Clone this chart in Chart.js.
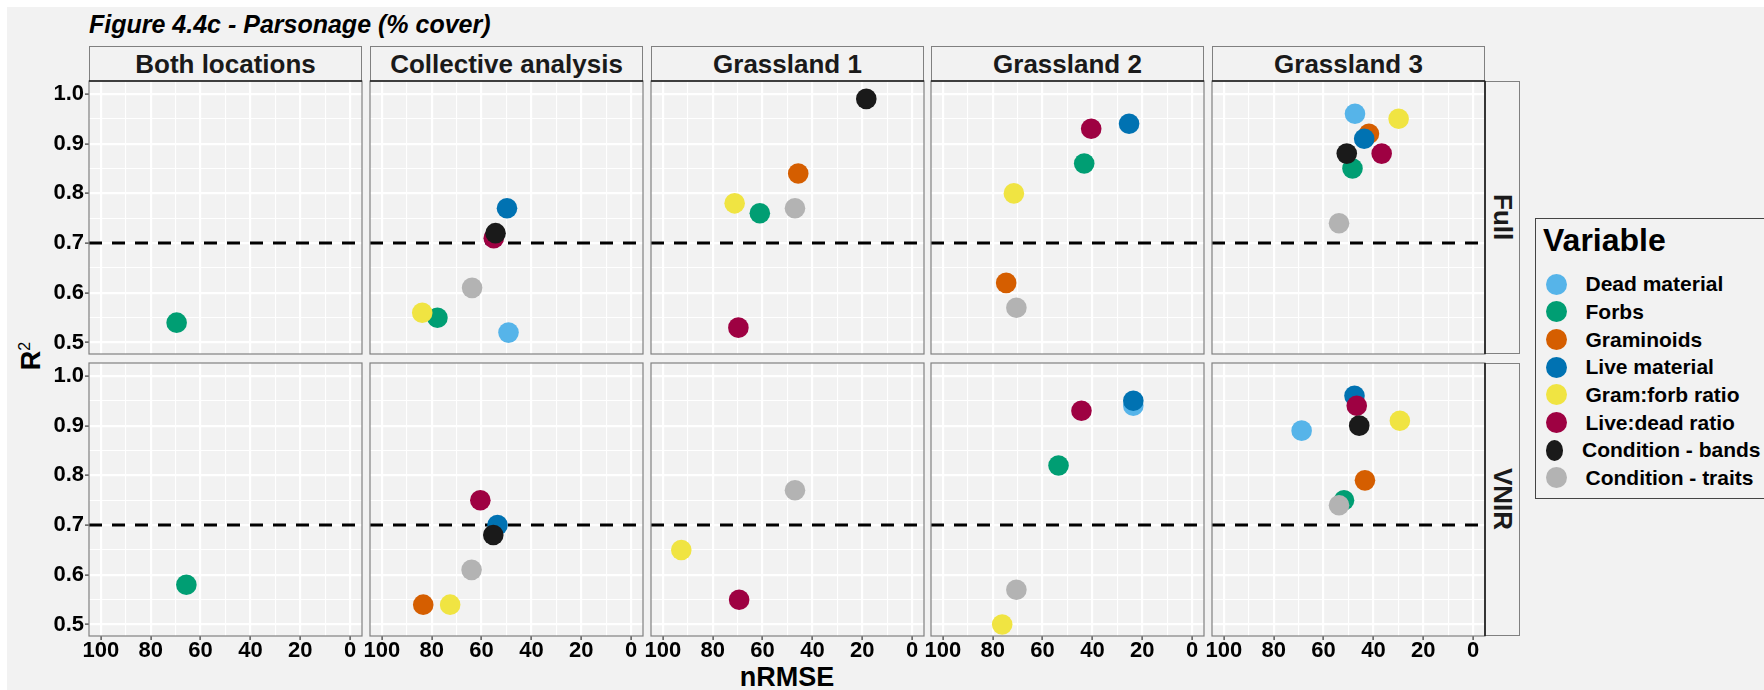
<!DOCTYPE html>
<html>
<head>
<meta charset="utf-8">
<title>Figure 4.4c - Parsonage (% cover)</title>
<script src="https://cdn.jsdelivr.net/npm/chart.js@4.4.1/dist/chart.umd.min.js"></script>
<style>
  html, body { margin: 0; padding: 0; background: #fff; }
  body {
    width: 1764px; height: 690px; overflow: hidden; position: relative;
    font-family: "Liberation Sans", Arial, sans-serif; color: #000;
  }
  #frame { position: absolute; left: 7px; top: 7px; right: 0; bottom: 0; background: #f2f2f2; }
  .abs { position: absolute; }
  canvas { position: absolute; }
  #title { left: 89px; top: 12px; font-size: 25px; line-height: 25px; font-weight: bold; font-style: italic; white-space: nowrap; }
  .strip {
    position: absolute; box-sizing: border-box; background: #f2f2f2;
    border: 1px solid #808080; color: #1a1a1a; font-weight: bold; font-size: 26px;
    display: flex; align-items: center; justify-content: center; white-space: nowrap;
  }
  .strip.top { border-bottom: none; }
  .strip.side { border-left: none; writing-mode: vertical-rl; }
  #xtitle { left: 787px; top: 677px; transform: translate(-50%, -50%); font-size: 27px; font-weight: bold; white-space: nowrap; }
  #ytitle { left: 31px; top: 356px; transform: translate(-50%, -50%) rotate(-90deg); font-size: 27px; font-weight: bold; white-space: nowrap; }
  #ytitle sup { font-size: 16px; font-weight: normal; }
  #legend { left: 1535px; top: 218px; width: 260px; height: 281px; box-sizing: border-box; border: 1.5px solid #444; }
  #legend-title { left: 1543px; top: 224px; font-size: 32px; line-height: 32px; font-weight: bold; white-space: nowrap; }
  .key { position: absolute; height: 28px; display: flex; align-items: center; white-space: nowrap; font-size: 21px; font-weight: bold; }
  .dot { width: 21px; height: 21px; border-radius: 50%; margin-right: 19px; }
</style>
</head>
<body>
<div id="frame"></div>
<div id="title" class="abs">Figure 4.4c - Parsonage (% cover)</div>
<div id="xtitle" class="abs">nRMSE</div>
<div id="ytitle" class="abs">R<sup>2</sup></div>
<div id="legend" class="abs"></div>
<div id="legend-title" class="abs">Variable</div>

<script>
const variables = ['Dead material', 'Forbs', 'Graminoids', 'Live material',
  'Gram:forb ratio', 'Live:dead ratio', 'Condition - bands', 'Condition - traits'];
const colours = ['#56B4E9', '#009E73', '#D55E00', '#0072B2',
  '#F0E442', '#9E0142', '#1A1A1A', '#B3B3B3'];
const locations = ['Both locations', 'Collective analysis', 'Grassland 1', 'Grassland 2', 'Grassland 3'];
const sensors = ['Full', 'VNIR'];

// rows = locations, columns = variables (null = no model for that pair)
const fullNrmse = [
  [null, 69.6, null, null, null, null, null, null],
  [49.2, 77.7, null, 49.8, 83.8, 55.1, 54.4, 63.8],
  [null, 61.1, 45.7, null, 71.2, 69.7, 18.4, 47.0],
  [null, 43.3, 74.6, 25.3, 71.5, 40.5, null, 70.5],
  [47.4, 48.4, 41.8, 43.7, 29.9, 36.7, 50.7, 53.8]
];
const fullR2 = [
  [null, 0.54, null, null, null, null, null, null],
  [0.52, 0.55, null, 0.77, 0.56, 0.71, 0.72, 0.61],
  [null, 0.76, 0.84, null, 0.78, 0.53, 0.99, 0.77],
  [null, 0.86, 0.62, 0.94, 0.80, 0.93, null, 0.57],
  [0.96, 0.85, 0.92, 0.91, 0.95, 0.88, 0.88, 0.74]
];
const vnirNrmse = [
  [null, 65.7, null, null, null, null, null, null],
  [null, null, 83.4, 53.6, 72.6, 60.5, 55.3, 64.0],
  [null, null, null, null, 92.6, 69.4, null, 47.0],
  [23.6, 53.6, null, 23.6, 76.2, 44.4, null, 70.5],
  [68.8, 51.8, 43.4, 47.6, 29.4, 46.7, 45.7, 53.8]
];
const vnirR2 = [
  [null, 0.58, null, null, null, null, null, null],
  [null, null, 0.54, 0.70, 0.54, 0.75, 0.68, 0.61],
  [null, null, null, null, 0.65, 0.55, null, 0.77],
  [0.94, 0.82, null, 0.95, 0.50, 0.93, null, 0.57],
  [0.89, 0.75, 0.79, 0.96, 0.91, 0.94, 0.90, 0.74]
];

const xTicks = [0, 20, 40, 60, 80, 100];
const xMinor = [10, 30, 50, 70, 90];
const yTicks = [0.5, 0.6, 0.7, 0.8, 0.9, 1.0];
const yMinor = [0.55, 0.65, 0.75, 0.85, 0.95];
const threshold = 0.7;

// facet geometry
const PANEL = 273;
const COL_LEFT = [89, 370, 651, 931, 1212];
const ROW_TOP = [81, 363];
const PAD = 20, Y_AXIS_W = 60, X_AXIS_H = 40;
const X_RANGE = [-4.75, 104.75];
const Y_RANGE = [0.477, 1.026];
const FONT = '"Liberation Sans", Arial, sans-serif';

const tickFont = { family: FONT, size: 22, weight: 'bold', lineHeight: 1 };

function tickList(major, minor) {
  return major.map(v => ({ value: v }))
    .concat(minor.map(v => ({ value: v, minor: true })))
    .sort((a, b) => a.value - b.value);
}

const gridWidth = ctx => (ctx.tick && ctx.tick.minor) ? 1.1 : 2.2;
const tickColour = ctx => (ctx.tick && ctx.tick.minor) ? 'rgba(0,0,0,0)' : '#333';

// panel frame: grey box, darker edge where it meets a strip
const panelBorder = {
  id: 'panelBorder',
  afterDraw(chart, args, opts) {
    const { ctx, chartArea: a } = chart;
    ctx.save();
    ctx.lineWidth = 1.2;
    ctx.strokeStyle = '#808080';
    ctx.strokeRect(a.left, a.top, a.width, a.height);
    ctx.strokeStyle = '#1a1a1a';
    ctx.lineWidth = 1.6;
    ctx.beginPath();
    if (opts.topDark) { ctx.moveTo(a.left, a.top); ctx.lineTo(a.right, a.top); }
    if (opts.rightDark) { ctx.moveTo(a.right, a.top); ctx.lineTo(a.right, a.bottom); }
    ctx.stroke();
    ctx.restore();
  }
};

function addDiv(cls, text, left, top, width, height) {
  const d = document.createElement('div');
  d.className = cls;
  d.textContent = text;
  Object.assign(d.style, { left: left + 'px', top: top + 'px', width: width + 'px', height: height + 'px' });
  document.body.appendChild(d);
  return d;
}

// column strips and row strips
locations.forEach((name, c) => addDiv('strip top', name, COL_LEFT[c], 46, PANEL, 35));
sensors.forEach((name, r) => addDiv('strip side', name, COL_LEFT[4] + PANEL, ROW_TOP[r], 35, PANEL));

// legend keys
variables.forEach((name, i) => {
  const k = addDiv('key', '', 1545.5, 270.3 + i * 27.67, 215, 28);
  const dot = document.createElement('div');
  dot.className = 'dot';
  dot.style.background = colours[i];
  k.appendChild(dot);
  k.appendChild(document.createTextNode(name));
});

function panelPoints(xs, ys) {
  const pts = [];
  xs.forEach((x, v) => {
    if (x !== null && ys[v] !== null) pts.push({ x: x, y: ys[v], v: v });
  });
  return pts;
}

const nrmse = [fullNrmse, vnirNrmse];
const r2 = [fullR2, vnirR2];

sensors.forEach((sensor, r) => {
  locations.forEach((loc, c) => {
    const first = c === 0, bottom = r === 1;
    const canvas = document.createElement('canvas');
    const w = PANEL + 2 * PAD + (first ? Y_AXIS_W : 0);
    const h = PANEL + 2 * PAD + (bottom ? X_AXIS_H : 0);
    canvas.width = w; canvas.height = h;
    canvas.style.left = (COL_LEFT[c] - PAD - (first ? Y_AXIS_W : 0)) + 'px';
    canvas.style.top = (ROW_TOP[r] - PAD) + 'px';
    canvas.style.width = w + 'px'; canvas.style.height = h + 'px';
    document.body.appendChild(canvas);

    new Chart(canvas, {
      type: 'scatter',
      data: {
        datasets: [{
          data: panelPoints(nrmse[r][c], r2[r][c]),
          pointRadius: 10.3,
          pointHoverRadius: 10.3,
          pointBorderWidth: 0,
          pointBackgroundColor: ctx => ctx.raw ? colours[ctx.raw.v] : colours[0]
        }, {
          data: [{ x: X_RANGE[1], y: threshold }, { x: X_RANGE[0], y: threshold }],
          showLine: true,
          borderColor: '#000',
          borderWidth: 3,
          borderDash: [13, 10],
          pointRadius: 0,
          fill: false
        }]
      },
      options: {
        responsive: false,
        animation: false,
        devicePixelRatio: 1,
        events: [],
        layout: { padding: PAD },
        scales: {
          x: {
            type: 'linear', reverse: true,
            min: X_RANGE[0], max: X_RANGE[1],
            afterBuildTicks: s => { s.ticks = tickList(xTicks, xMinor); },
            afterFit: s => { s.height = bottom ? X_AXIS_H : 0; },
            border: { display: false },
            grid: { color: '#fff', lineWidth: gridWidth, drawTicks: bottom, tickLength: 4, tickColor: tickColour, tickWidth: 1.2 },
            ticks: {
              display: bottom, autoSkip: false, maxRotation: 0, padding: 0,
              color: '#000', font: tickFont,
              callback: (v, i, t) => t[i].minor ? '' : String(v)
            }
          },
          y: {
            type: 'linear',
            min: Y_RANGE[0], max: Y_RANGE[1],
            afterBuildTicks: s => { s.ticks = tickList(yTicks, yMinor); },
            afterFit: s => { s.width = first ? Y_AXIS_W : 0; },
            border: { display: false },
            grid: { color: '#fff', lineWidth: gridWidth, drawTicks: first, tickLength: 4, tickColor: tickColour, tickWidth: 1.2 },
            ticks: {
              display: first, autoSkip: false, padding: 1,
              color: '#000', font: tickFont,
              callback: (v, i, t) => t[i].minor ? '' : v.toFixed(1)
            }
          }
        },
        plugins: {
          legend: { display: false },
          tooltip: { enabled: false },
          panelBorder: { topDark: r === 0, rightDark: c === 4 }
        }
      },
      plugins: [panelBorder]
    });
  });
});
</script>
</body>
</html>
